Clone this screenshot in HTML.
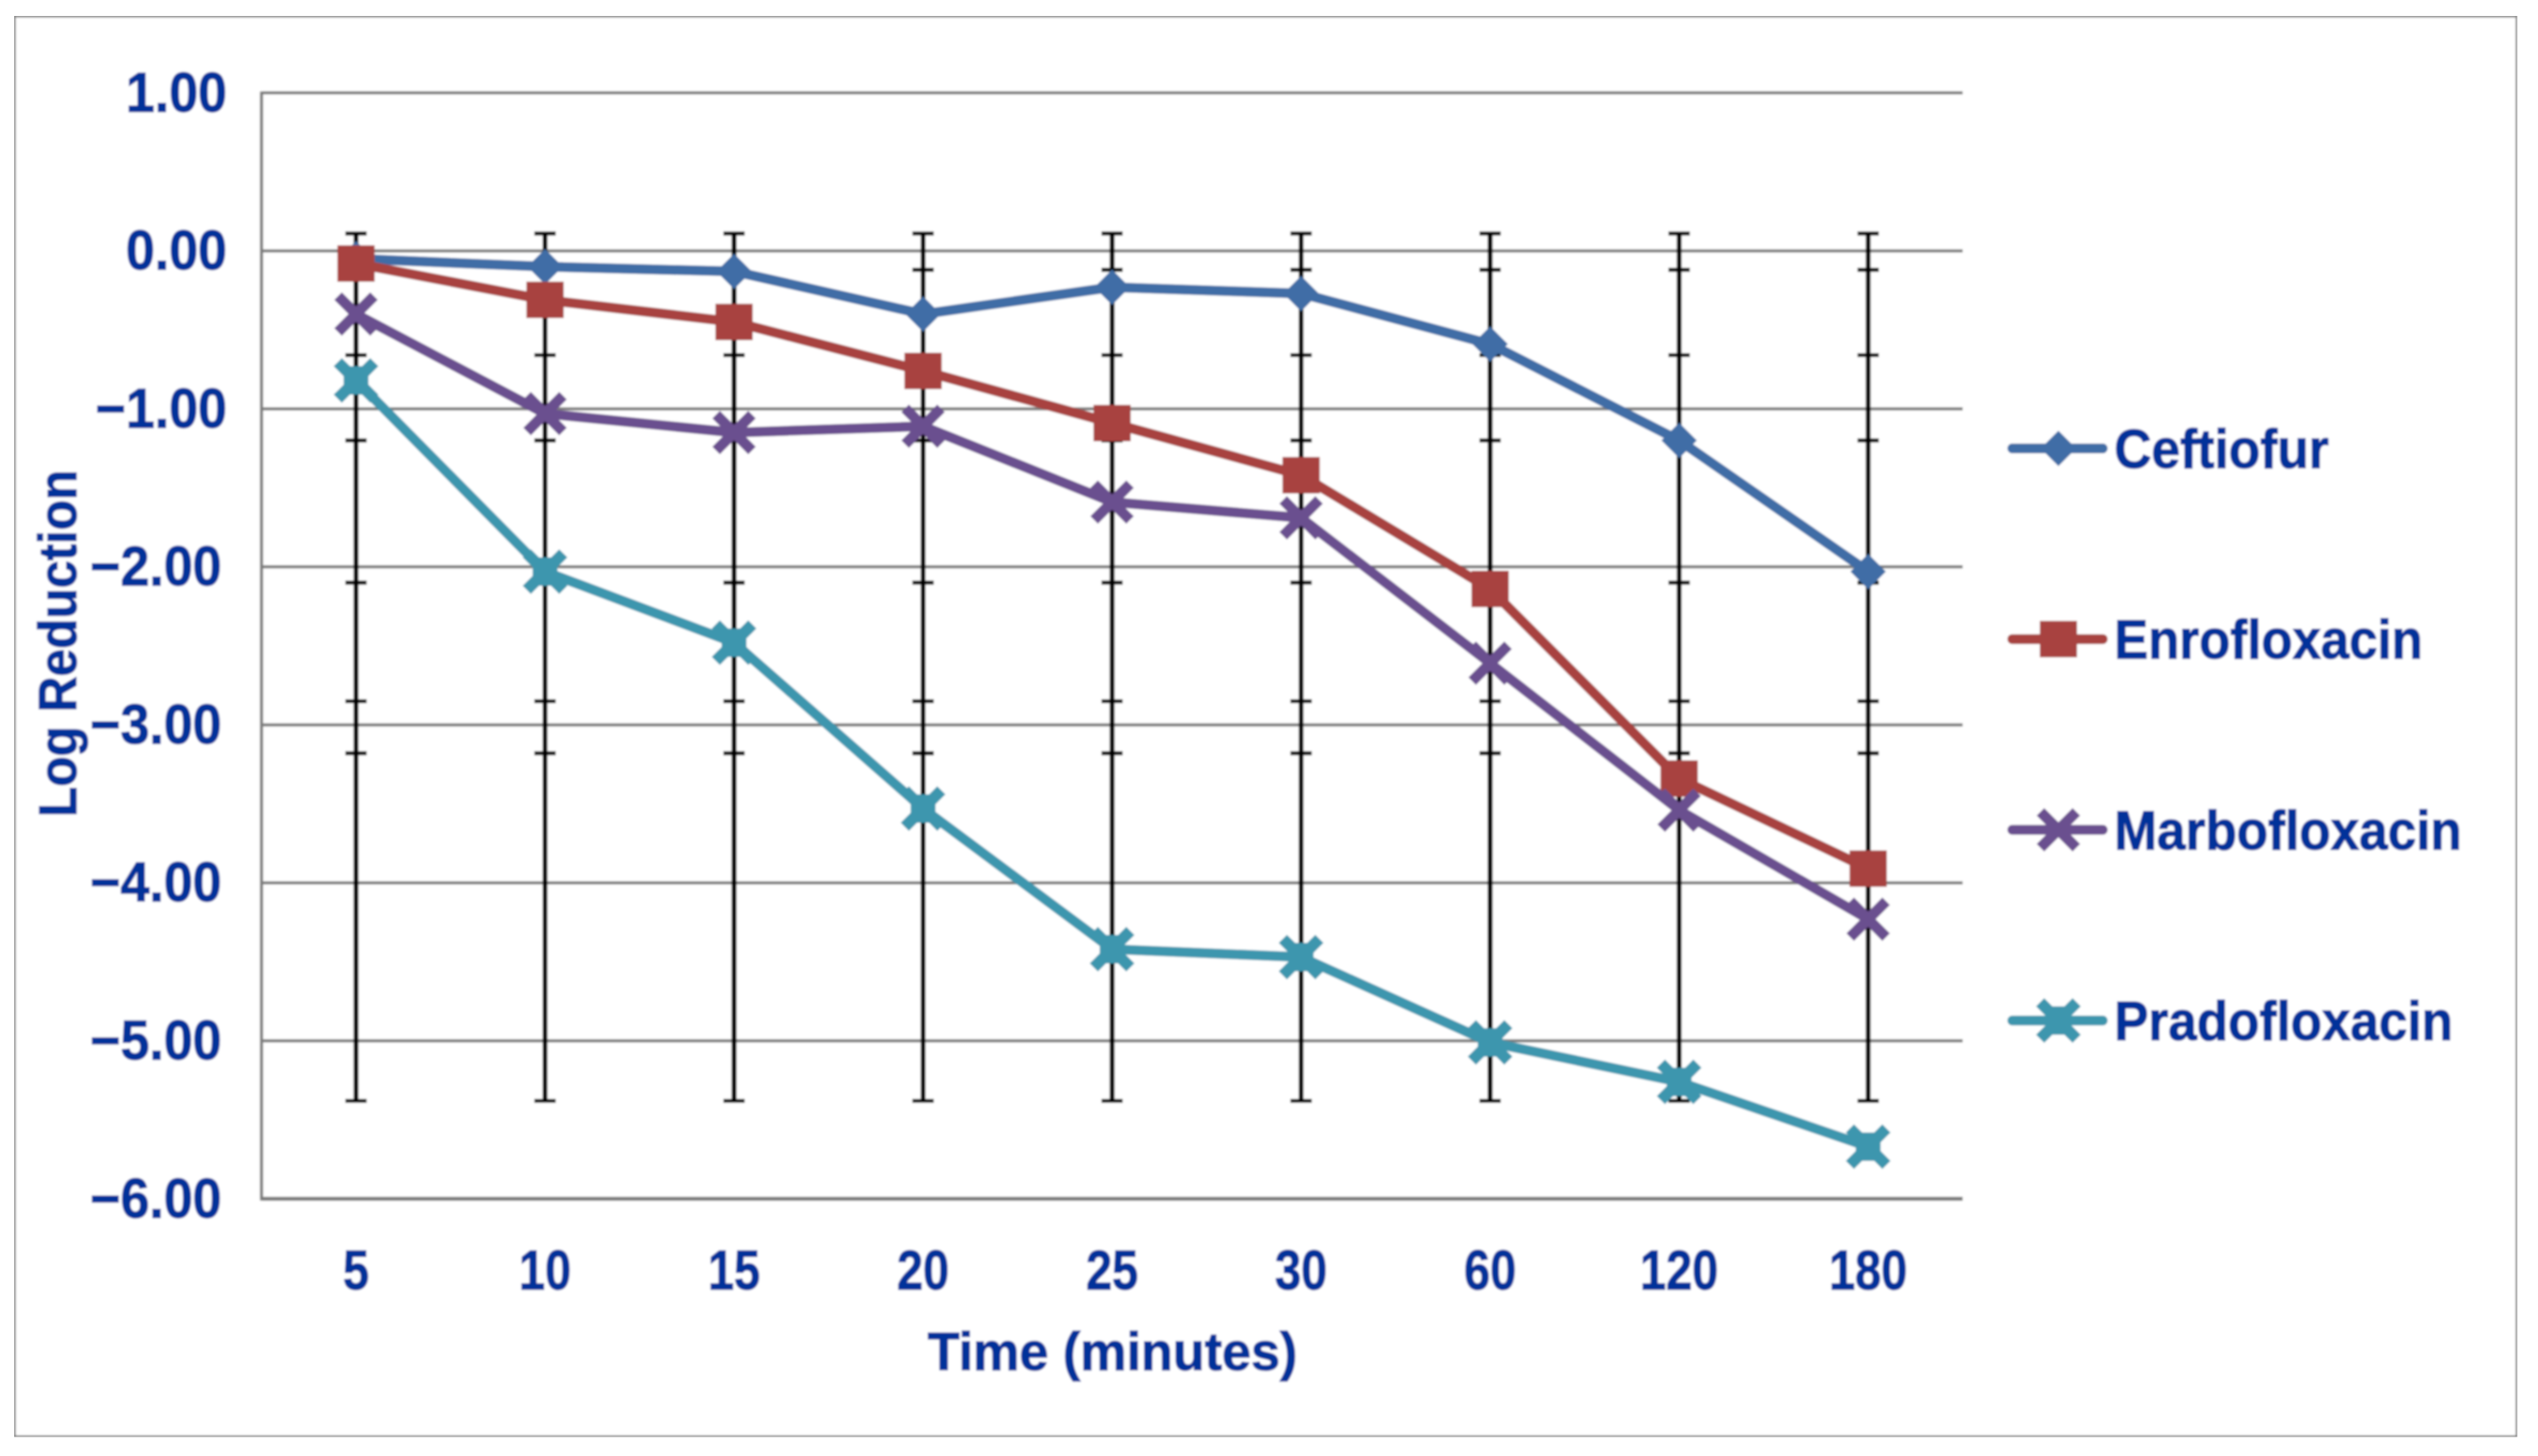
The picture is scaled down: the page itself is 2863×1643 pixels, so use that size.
<!DOCTYPE html>
<html lang="en">
<head>
<meta charset="utf-8">
<title>Log Reduction over Time</title>
<style>
  html, body { margin: 0; padding: 0; background: #fff; }
  svg { display: block; }
  text { font-family: "Liberation Sans", "DejaVu Sans", sans-serif; font-weight: 700; fill: #00309a; stroke: #00309a; stroke-width: 1.2px; }
</style>
</head>
<body>
<svg id="chart" xmlns="http://www.w3.org/2000/svg" width="2863" height="1643" viewBox="0 0 2863 1643">
  <defs><filter id="soft" x="0" y="0" width="100%" height="100%"><feGaussianBlur stdDeviation="1"/></filter></defs>
  <rect width="2863" height="1643" fill="#fff"/>
  <g id="root" filter="url(#soft)">
    <rect x="16" y="18" width="2823.5" height="1603.5" fill="#fff" stroke="#858585" stroke-width="3.5"/>
    <g id="grid"></g>
    <g id="errors"></g>
    <g id="series"></g>
    <g id="yticks"></g>
    <g id="xticks"></g>
    <text x="1255" y="1546" font-size="60" text-anchor="middle" textLength="417" lengthAdjust="spacingAndGlyphs">Time (minutes)</text>
    <text transform="translate(86,726) rotate(-90)" font-size="60" text-anchor="middle" textLength="392" lengthAdjust="spacingAndGlyphs">Log Reduction</text>
    <g id="legend"></g>
  </g>
</svg>
<script>
const categories = ["5", "10", "15", "20", "25", "30", "60", "120", "180"];
const yTicks = [1, 0, -1, -2, -3, -4, -5, -6];
const seriesNames = ["Ceftiofur", "Enrofloxacin", "Marbofloxacin", "Pradofloxacin"];
const ceftiofur = [-0.05, -0.10, -0.13, -0.40, -0.23, -0.27, -0.59, -1.20, -2.03];
const enrofloxacin = [-0.08, -0.31, -0.45, -0.76, -1.09, -1.42, -2.14, -3.34, -3.91];
const marbofloxacin = [-0.40, -1.03, -1.15, -1.11, -1.59, -1.69, -2.61, -3.54, -4.23];
const pradofloxacin = [-0.82, -2.03, -2.48, -3.53, -4.42, -4.47, -5.01, -5.26, -5.67];
const errorLevels = [0.11, -0.12, -0.66, -1.20, -2.10, -2.85, -3.18, -5.38];

const NS = "http://www.w3.org/2000/svg";
const plot = { left: 295, right: 2214, top: 104.8, bottom: 1352.8, yMax: 1, yMin: -6 };
const xScale = i => plot.left + (plot.right - plot.left) * (i + 0.5) / categories.length;
const yScale = v => plot.top + (plot.yMax - v) / (plot.yMax - plot.yMin) * (plot.bottom - plot.top);

function make(tag, attrs, parent) {
  const node = document.createElementNS(NS, tag);
  for (const k in attrs) node.setAttribute(k, attrs[k]);
  parent.appendChild(node);
  return node;
}
function fmt(v) {
  return (v < 0 ? "\u2212" : "") + Math.abs(v).toFixed(2);
}

/* gridlines */
const grid = document.getElementById("grid");
yTicks.forEach(v => {
  const l = make("line", { x1: plot.left, x2: plot.right, y1: yScale(v), y2: yScale(v), stroke: "#7c7c7c", "stroke-width": v === plot.yMin ? 4.5 : 3.5 }, grid);
  
  
});
const axisLine = make("line", { x1: plot.left, x2: plot.left, y1: plot.top - 1.5, y2: plot.bottom + 2, stroke: "#7c7c7c", "stroke-width": 3.5 }, grid);



/* y tick labels */
const yG = document.getElementById("yticks");
yTicks.forEach(v => {
  const t = make("text", { "font-size": 63, "text-anchor": "end", transform: `translate(${v === 1 || v === 0 || v === -1 ? 256 : 250},${yScale(v) + 21}) scale(0.93,1)` }, yG);
  t.textContent = fmt(v);
  
  
});

/* x tick labels */
const xG = document.getElementById("xticks");
categories.forEach((c, i) => {
  const t = make("text", { "font-size": 63, "text-anchor": "middle", transform: `translate(${xScale(i)},1455) scale(0.84,1)` }, xG);
  t.textContent = c;
  
  
});

/* error bars */
const eG = document.getElementById("errors");
categories.forEach((c, i) => {
  const x = xScale(i);
  const hi = Math.max(...errorLevels), lo = Math.min(...errorLevels);
  const stem = make("line", { x1: x, x2: x, y1: yScale(hi), y2: yScale(lo), stroke: "#000", "stroke-width": 5.5 }, eG);
  
  
  errorLevels.forEach(v => {
    const cap = make("line", { x1: x - 12, x2: x + 12, y1: yScale(v), y2: yScale(v), stroke: "#000", "stroke-width": 4.5 }, eG);
    
    
  });
});

/* markers */
const colors = ["#3f6da6", "#a8423f", "#6b4f8f", "#3d96ae"];
function drawMarker(kind, x, y, g) {
  const c = colors[kind];
  if (kind === 0) {
    const m = make("polygon", { points: `${x},${y - 20} ${x + 20},${y} ${x},${y + 20} ${x - 20},${y}`, fill: c }, g);
    
    
  } else if (kind === 1) {
    const m = make("rect", { x: x - 21, y: y - 20.5, width: 42, height: 41, fill: c }, g);
    
    
  } else {
    const w = kind === 2 ? 12 : 13;
    const d = 16;
    const m = make("path", { d: `M${x - d},${y - d}L${x + d},${y + d}M${x + d},${y - d}L${x - d},${y + d}`, fill: "none", stroke: c, "stroke-width": w, "stroke-linecap": "square" }, g);
    
    
    if (kind === 3) {
      const hub = make("rect", { x: x - 14, y: y - 16, width: 28, height: 32, fill: c }, g);
      
      
    }
  }
}

/* series */
const sG = document.getElementById("series");
[ceftiofur, enrofloxacin, marbofloxacin, pradofloxacin].forEach((vals, k) => {
  const g = make("g", {}, sG);
  
  
  const line = make("polyline", { points: vals.map((v, i) => xScale(i) + "," + yScale(v)).join(" "), fill: "none", stroke: colors[k], "stroke-width": 11, "stroke-linejoin": "round", "stroke-linecap": "round" }, g);
  
  
  vals.forEach((v, i) => drawMarker(k, xScale(i), yScale(v), g));
});

/* legend */
const lG = document.getElementById("legend");
const legendLengths = [242, 348, 392, 382];
seriesNames.forEach((name, k) => {
  const y = 506 + k * 215.2;
  const g = make("g", {}, lG);
  
  
  const l = make("line", { x1: 2270, x2: 2372, y1: y, y2: y, stroke: colors[k], "stroke-width": 11, "stroke-linecap": "round" }, g);
  
  
  drawMarker(k, 2322, y, g);
  const t = make("text", { x: 2385, y: y + 22, "font-size": 62, textLength: legendLengths[k], lengthAdjust: "spacingAndGlyphs" }, g);
  t.textContent = name;
  
  
});
</script>
</body>
</html>
